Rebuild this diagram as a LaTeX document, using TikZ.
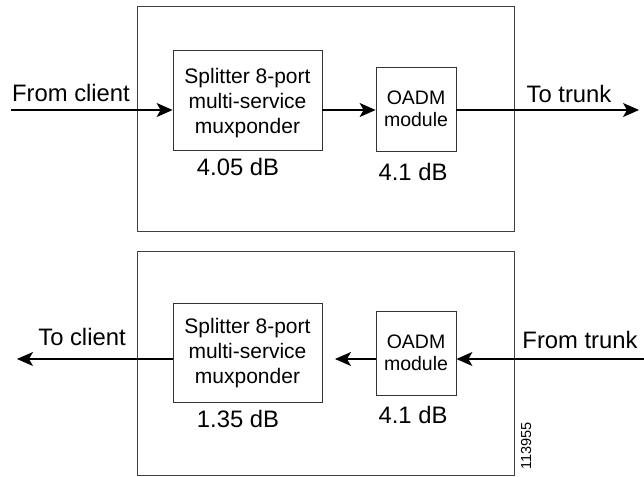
\documentclass[tikz,border=0pt]{standalone}
\usepackage{fontspec}
\setmainfont{Liberation Sans}
\usetikzlibrary{arrows.meta}
\begin{document}
\begin{tikzpicture}[x=1pt,y=-1pt,
  outer/.style={draw=black!75,line width=0.8pt},
  block/.style={draw=black!80,line width=0.8pt,fill=white,inner sep=0pt,align=center},
  flow/.style={line width=1.1pt,-{Stealth[length=16pt,width=14pt,inset=4pt]}},
  lbl/.style={font=\fontsize{23.8}{28}\selectfont,inner sep=0pt},
  btxt/.style={font=\fontsize{21}{25}\selectfont},
  otxt/.style={font=\fontsize{19.5}{22}\selectfont}]
\useasboundingbox (0,0) rectangle (644,476);
% top
\draw[outer] (137,6) rectangle (514,231);
\node[block,minimum width=149pt,minimum height=100pt] (sp1) at (247.5,100) {};
\node[btxt,align=center,inner sep=0pt] (sp1t) at (247.5,103) {Splitter 8-port\\multi-service\\muxponder};
\node[block,otxt,minimum width=80pt,minimum height=84pt] (oa1) at (416,109) {OADM\\module};
\coordinate (in1) at (11,110);
\coordinate (out1) at (639,110);
\draw[flow] (in1) -- (sp1.west |- in1);
\draw[flow] (sp1.east |- in1) -- (oa1.west |- in1);
\draw[flow] (oa1.east |- in1) -- (out1);
\node[lbl] (fc) at (71,93) {From client};
\node[lbl] (tt) at (569,94) {To trunk};
\node[lbl] (d1) at (238,167) {4.05 dB};
\node[lbl] (d2) at (413,172) {4.1 dB};
% bottom
\draw[outer] (137,251) rectangle (514,475);
\node[block,minimum width=149pt,minimum height=99pt] (sp2) at (247.5,352.5) {};
\node[btxt,align=center,inner sep=0pt] (sp2t) at (247.5,353) {Splitter 8-port\\multi-service\\muxponder};
\node[block,otxt,minimum width=80pt,minimum height=84pt] (oa2) at (416,353) {OADM\\module};
\coordinate (in2) at (644,359);
\coordinate (out2) at (17,359);
\draw[flow] (in2) -- (oa2.east |- in2);
\draw[flow] (oa2.west |- in2) -- (335,359);
\draw[flow] (sp2.west |- in2) -- (out2);
\node[lbl] (tc) at (82,337) {To client};
\node[lbl] (ft) at (580,340) {From trunk};
\node[lbl] (d3) at (238,419) {1.35 dB};
\node[lbl] (d4) at (413,415) {4.1 dB};
\node[font=\fontsize{14.5}{16}\selectfont,inner sep=0pt,rotate=90] (id) at (526,446) {113955};
\end{tikzpicture}
\end{document}
